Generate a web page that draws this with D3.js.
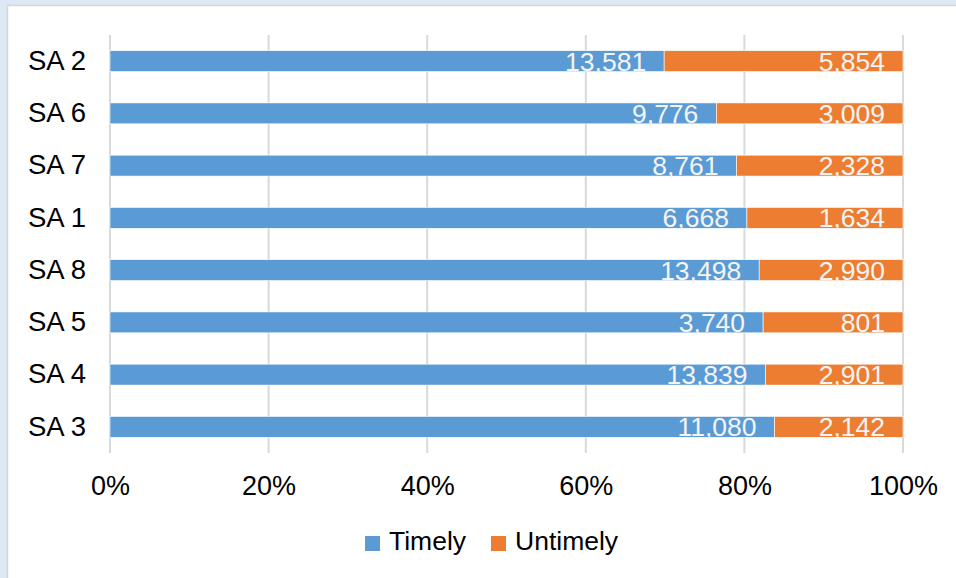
<!DOCTYPE html>
<html>
<head>
<meta charset="utf-8">
<script src="https://cdn.jsdelivr.net/npm/d3@7"></script>
<style>
  html, body { margin: 0; padding: 0; background: #dde8f5; }
  svg { display: block; }
  text { font-family: "Liberation Sans", Arial, sans-serif; }
</style>
</head>
<body>
<svg id="chart" width="956" height="578"></svg>
<script>
// Case counts per unit, top row first
const categories = ["SA 2", "SA 6", "SA 7", "SA 1", "SA 8", "SA 5", "SA 4", "SA 3"];
const timely   = [13581, 9776, 8761, 6668, 13498, 3740, 13839, 11080];
const untimely = [5854, 3009, 2328, 1634, 2990, 801, 2901, 2142];
const seriesNames = ["Timely", "Untimely"];
const tickValues = [0, 0.2, 0.4, 0.6, 0.8, 1.0];
const colors = ["#5b9bd5", "#ed7d31"];

const svg = d3.select("#chart");
const W = 956, H = 578;

// White chart panel with a soft grey frame
svg.append("rect").attr("x", 0).attr("y", 0).attr("width", W).attr("height", H).attr("fill", "#dde8f5");
svg.append("rect").attr("x", 7.5).attr("y", 5.5).attr("width", W).attr("height", H)
  .attr("fill", "#ffffff").attr("stroke", "#d6d6d6").attr("stroke-width", 1.5);

const margin = { left: 110, right: 53, top: 35, bottom: 125 };
const x = d3.scaleLinear().domain([0, 1]).range([margin.left, W - margin.right]);
const y = d3.scaleBand().domain(categories).range([margin.top, H - margin.bottom]).paddingInner(0.6).paddingOuter(0.3);

// Normalised stacked rows
const rows = categories.map((c, i) => ({ cat: c, Timely: timely[i], Untimely: untimely[i], total: timely[i] + untimely[i] }));
const norm = rows.map(r => ({ cat: r.cat, Timely: r.Timely / r.total, Untimely: r.Untimely / r.total, raw: r }));
const stack = d3.stack().keys(seriesNames)(norm);

// Vertical gridlines
const gridTop = margin.top, gridBottom = H - margin.bottom;
svg.append("g").selectAll("line").data(tickValues).join("line")
  .attr("x1", d => x(d)).attr("x2", d => x(d))
  .attr("y1", gridTop).attr("y2", gridBottom)
  .attr("stroke", "#d9d9d9").attr("stroke-width", 2);

// Bars
const layers = svg.append("g").selectAll("g").data(stack).join("g")
  .attr("fill", (d, i) => colors[i]);
layers.selectAll("rect").data(d => d).join("rect")
  .attr("x", d => x(d[0]))
  .attr("width", d => x(d[1]) - x(d[0]))
  .attr("y", d => y(d.data.cat))
  .attr("height", y.bandwidth())
  .attr("stroke", "#ffffff").attr("stroke-width", 0.6);

// Value labels at the inside end of each segment
layers.each(function (layer) {
  const key = layer.key;
  d3.select(this).selectAll("text").data(layer).join("text")
    .attr("x", d => x(d[1]) - 18)
    .attr("y", d => y(d.data.cat) + y.bandwidth() / 2 + 9.5)
    .attr("text-anchor", "end")
    .attr("font-size", 26.5)
    .attr("fill", "#f4f4f4")
    .text(d => d3.format(",")(d.data.raw[key]));
});

// Category axis
const yAxis = svg.append("g").attr("transform", `translate(${margin.left},0)`)
  .call(d3.axisLeft(y).tickSize(0).tickPadding(24));
yAxis.select(".domain").remove();
yAxis.selectAll("text").attr("font-size", 27.5).attr("fill", "#000").attr("font-family", "Liberation Sans, Arial, sans-serif");

// Percentage axis
const xAxis = svg.append("g").attr("transform", `translate(0,${gridBottom})`)
  .call(d3.axisBottom(x).tickValues(tickValues).tickFormat(d3.format(".0%")).tickSize(0).tickPadding(23));
xAxis.select(".domain").remove();
xAxis.selectAll("text").attr("font-size", 27).attr("fill", "#000").attr("font-family", "Liberation Sans, Arial, sans-serif");

// Legend
const legendPos = [365, 491];
const legend = svg.append("g").selectAll("g").data(seriesNames).join("g")
  .attr("transform", (d, i) => `translate(${legendPos[i]},536)`);
legend.append("rect").attr("width", 15).attr("height", 15).attr("fill", (d, i) => colors[i]);
legend.append("text").attr("x", 24).attr("y", 13.5).attr("font-size", 26.5).attr("fill", "#000").text(d => d);
</script>
</body>
</html>
